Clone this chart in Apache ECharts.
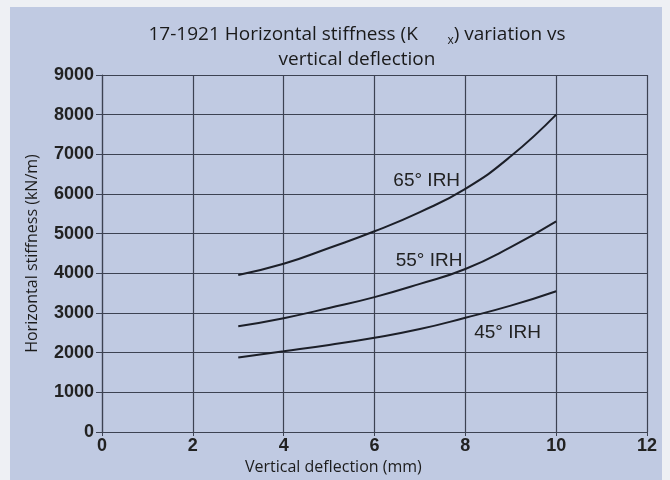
<!DOCTYPE html>
<html>
<head>
<meta charset="utf-8">
<script src="https://cdn.jsdelivr.net/npm/echarts@6/dist/echarts.min.js"></script>
<style>
  html, body { margin: 0; padding: 0; background: #eef0f4; }
  #chart { width: 670px; height: 480px; }
</style>
</head>
<body>
<div id="chart"></div>
<script>
// deflection (mm)
const deflection = [3, 4, 5, 6, 7, 8, 9, 10];
// horizontal stiffness (kN/m) per IRH angle
const irh65 = [3960, 4240, 4640, 5060, 5545, 6130, 6950, 8000];
const irh55 = [2665, 2870, 3125, 3400, 3735, 4110, 4660, 5310];
const irh45 = [1880, 2035, 2195, 2375, 2595, 2880, 3185, 3550];
const xTicks = [0, 2, 4, 6, 8, 10, 12];
const yTicks = [0, 1000, 2000, 3000, 4000, 5000, 6000, 7000, 8000, 9000];
// label anchor points [x, y, text]
const curveLabels = [
  [7.15, 6345, '65° IRH'],
  [7.2, 4325, '55° IRH'],
  [8.93, 2510, '45° IRH']
];

const pairs = arr => deflection.map((x, i) => [x, arr[i]]);

const chart = echarts.init(document.getElementById('chart'));
const ink = '#1c1f28';
const gridCol = '#3c4252';

function curve(name, arr, lbl) {
  return {
    name: name,
    type: 'line',
    smooth: true,
    symbol: 'none',
    data: pairs(arr),
    lineStyle: { color: ink, width: 2 },
    markPoint: {
      symbol: 'circle',
      symbolSize: 0,
      data: [{ coord: [lbl[0], lbl[1]] }],
      label: {
        show: true,
        formatter: lbl[2],
        color: '#222',
        fontSize: 19,
        fontFamily: 'Liberation Sans',
        position: 'inside'
      }
    }
  };
}

chart.setOption({
  backgroundColor: '#eef0f4',
  animation: false,
  graphic: [
    { type: 'rect', z: -10, shape: { x: 10, y: 7, width: 652, height: 473 }, style: { fill: '#c0cae2' } },
    { type: 'text', left: 245, top: 459, z: 10,
      style: { text: 'Vertical deflection (mm)', fill: '#1c1c1c', font: '16px "Open Sans"' } }
  ],
  title: {
    text: '17-1921 Horizontal stiffness (K      {sub|x}) variation vs\nvertical deflection',
    left: 352,
    textAlign: 'center',
    top: 17,
    textStyle: {
      color: '#1a1a1a',
      fontSize: 19,
      fontWeight: 'normal',
      fontFamily: 'Open Sans',
      lineHeight: 25,
      rich: {
        sub: { fontSize: 12, verticalAlign: 'bottom', padding: [14, 0, 0, 0], fontFamily: 'Open Sans', color: '#1a1a1a' }
      }
    }
  },
  grid: { left: 102, right: 23, top: 75, bottom: 48 },
  xAxis: {
    type: 'value',
    min: 0, max: 12, interval: 2,
    axisLine: { show: true, lineStyle: { color: gridCol, width: 1.2 } },
    axisTick: { show: true, length: 4, lineStyle: { color: gridCol } },
    splitLine: { show: true, lineStyle: { color: gridCol, width: 1.2 } },
    axisLabel: {
      color: '#222', fontSize: 18, fontWeight: 'bold', fontFamily: 'Liberation Sans', margin: 5,
      formatter: v => xTicks.includes(v) ? String(v) : ''
    }
  },
  yAxis: {
    type: 'value',
    min: 0, max: 9000, interval: 1000,
    name: 'Horizontal stiffness (kN/m)',
    nameLocation: 'middle',
    nameGap: 62,
    nameTextStyle: { color: '#1c1c1c', fontSize: 16, fontFamily: 'Open Sans' },
    axisLine: { show: true, lineStyle: { color: gridCol, width: 1.2 } },
    axisTick: { show: true, length: 6, lineStyle: { color: gridCol } },
    splitLine: { show: true, lineStyle: { color: gridCol, width: 1.2 } },
    axisLabel: {
      color: '#222', fontSize: 18, fontWeight: 'bold', fontFamily: 'Liberation Sans', margin: 8,
      formatter: v => yTicks.includes(v) ? String(v) : ''
    }
  },
  series: [
    curve('65° IRH', irh65, curveLabels[0]),
    curve('55° IRH', irh55, curveLabels[1]),
    curve('45° IRH', irh45, curveLabels[2])
  ]
});
</script>
</body>
</html>
